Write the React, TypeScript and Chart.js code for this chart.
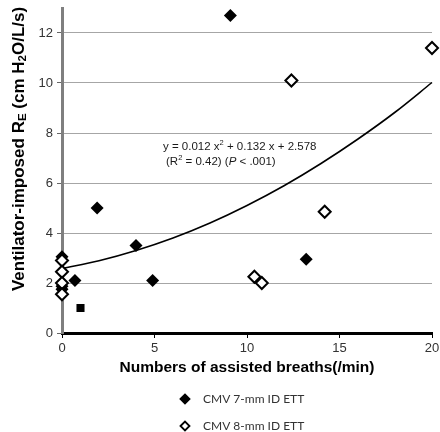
import React, { useEffect, useRef } from "react";
import { Chart, registerables } from "chart.js";
Chart.register(...registerables);

// CMV 7-mm ID ETT (filled diamonds)
const cmv7X = [9.1, 1.9, 4.0, 4.9, 0.7, 0, 0, 0, 0, 13.2];
const cmv7Y = [12.7, 5.0, 3.5, 2.1, 2.1, 3.05, 2.9, 1.87, 1.75, 2.95];
// CMV 8-mm ID ETT (open diamonds)
const cmv8X = [20, 12.4, 14.2, 10.4, 10.8, 0, 0, 0, 0];
const cmv8Y = [11.4, 10.1, 4.85, 2.25, 2.0, 2.9, 2.45, 2.0, 1.55];
// extra filled square marker
const squareX = [1.0];
const squareY = [1.0];
// trend line points
const trendX = [0, 2, 4, 6, 8, 10, 12, 14, 16, 18, 20];
const trendY = [2.58, 2.89, 3.30, 3.80, 4.40, 5.10, 5.89, 6.78, 7.76, 8.83, 10.02];

const xTicks = [0, 5, 10, 15, 20];
const yTicks = [0, 2, 4, 6, 8, 10, 12];

const legendLabels = ["CMV 7-mm ID ETT", "CMV 8-mm ID ETT"];
const eqLine1 = "y = 0.012 x² + 0.132 x + 2.578";

type Seg = { t: string; f: string; dy?: number };

function drawRich(ctx: CanvasRenderingContext2D, segs: Seg[], x: number, y: number, align: "center" | "left") {
  let total = 0;
  for (const s of segs) {
    ctx.font = s.f;
    total += ctx.measureText(s.t).width;
  }
  let cx = align === "center" ? x - total / 2 : x;
  ctx.textAlign = "left";
  ctx.textBaseline = "middle";
  for (const s of segs) {
    ctx.font = s.f;
    ctx.fillText(s.t, cx, y + (s.dy || 0));
    cx += ctx.measureText(s.t).width;
  }
}

const FF = "'Liberation Sans', Arial, sans-serif";

const textPlugin = {
  id: "textPlugin",
  afterDraw(chart: any) {
    const ctx: CanvasRenderingContext2D = chart.ctx;
    ctx.save();
    ctx.fillStyle = "#000";
    // Y axis title (rotated -90deg about its centre)
    ctx.save();
    ctx.translate(19, 149);
    ctx.rotate(-Math.PI / 2);
    const b = `bold 17px ${FF}`;
    const bs = `bold 11.5px ${FF}`;
    drawRich(ctx, [
      { t: "Ventilator-imposed R", f: b },
      { t: "E", f: bs, dy: 4 },
      { t: " (cm H", f: b },
      { t: "2", f: bs, dy: 4 },
      { t: "O/L/s)", f: b },
    ], 0, 0, "center");
    ctx.restore();
    // X axis title
    drawRich(ctx, [{ t: "Numbers of assisted breaths(/min)", f: `bold 15.5px ${FF}` }], 247, 368, "center");

    // Equation
    ctx.fillStyle = "#1a1a1a";
    const n = `11.5px ${FF}`;
    const sup = `7.5px ${FF}`;
    const parts = eqLine1.split("²");
    drawRich(ctx, [
      { t: parts[0], f: n },
      { t: "2", f: sup, dy: -4 },
      { t: parts[1], f: n },
    ], 163, 147, "left");
    drawRich(ctx, [
      { t: "(R", f: n },
      { t: "2", f: sup, dy: -4 },
      { t: " = 0.42) (", f: n },
      { t: "P", f: `italic 11.5px ${FF}` },
      { t: " < .001)", f: n },
    ], 166, 162, "left");

    // Legend
    const items = [
      { fill: "#000", y: 399 },
      { fill: "#fff", y: 426 },
    ];
    items.forEach((it, i) => {
      const cx = 185;
      const r = 4.5;
      ctx.beginPath();
      ctx.moveTo(cx - r, it.y);
      ctx.lineTo(cx, it.y - r);
      ctx.lineTo(cx + r, it.y);
      ctx.lineTo(cx, it.y + r);
      ctx.closePath();
      ctx.fillStyle = it.fill;
      ctx.fill();
      ctx.lineWidth = 1.8;
      ctx.strokeStyle = "#000";
      ctx.stroke();
      ctx.fillStyle = "#333";
      drawRich(ctx, [{ t: legendLabels[i], f: `12px Lato, ${FF}` }], 203, it.y, "left");
    });
    ctx.restore();
  },
};

export default function App() {
  const ref = useRef<HTMLCanvasElement | null>(null);
  useEffect(() => {
    if (!ref.current) return;
    const toPts = (xs: number[], ys: number[]) => xs.map((x, i) => ({ x, y: ys[i] }));
    const chart = new Chart(ref.current, {
      type: "scatter",
      data: {
        datasets: [
          {
            label: legendLabels[1],
            data: toPts(cmv8X, cmv8Y),
            pointStyle: "rectRot",
            pointRadius: 6,
            pointBackgroundColor: "#fff",
            pointBorderColor: "#000",
            pointBorderWidth: 2,
            clip: false,
            order: 0,
          },
          {
            label: legendLabels[0],
            data: toPts(cmv7X, cmv7Y),
            pointStyle: "rectRot",
            pointRadius: 6.5,
            pointBackgroundColor: "#000",
            pointBorderColor: "#000",
            pointBorderWidth: 0,
            clip: false,
            order: 1,
          },
          {
            label: "square",
            data: toPts(squareX, squareY),
            pointStyle: "rect",
            pointRadius: 5.7,
            pointBackgroundColor: "#000",
            pointBorderColor: "#000",
            pointBorderWidth: 0,
            clip: false,
            order: 1,
          },
          {
            type: "line",
            label: "trend",
            data: toPts(trendX, trendY),
            borderColor: "#000",
            borderWidth: 1.6,
            pointRadius: 0,
            cubicInterpolationMode: "monotone",
            fill: false,
            showLine: true,
            clip: false,
            order: 2,
          } as any,
        ],
      },
      options: {
        animation: false,
        responsive: false,
        maintainAspectRatio: false,
        devicePixelRatio: 1,
        layout: { padding: { left: 0, right: 8, top: 0, bottom: 71 } },
        plugins: { legend: { display: false }, tooltip: { enabled: false } },
        scales: {
          x: {
            type: "linear",
            min: 0,
            max: 20,
            afterBuildTicks: (s: any) => { s.ticks = xTicks.map((v) => ({ value: v })); },
            afterFit: (s: any) => { s.height = 28; s.paddingLeft = 0; s.paddingRight = 0; },
            grid: { drawOnChartArea: false, drawTicks: true, tickLength: 5, tickColor: "#000", color: "#000" },
            border: { color: "#000", width: 3 },
            ticks: { color: "#333", font: { size: 13, family: FF }, padding: 3, maxRotation: 0 },
          },
          y: {
            type: "linear",
            min: 0,
            max: 13,
            afterBuildTicks: (s: any) => { s.ticks = yTicks.map((v) => ({ value: v })); },
            afterFit: (s: any) => { s.width = 62; s.paddingTop = 0; s.paddingBottom = 0; },
            grid: { color: "#a6a6a6", lineWidth: 1, drawTicks: true, tickLength: 5, tickColor: "#666" },
            border: { color: "#7f7f7f", width: 3 },
            ticks: { color: "#333", font: { size: 13, family: FF }, padding: 4 },
          },
        },
      },
      plugins: [textPlugin],
    } as any);
    return () => chart.destroy();
  }, []);
  return (
    <div style={{ position: "fixed", left: 0, top: 0, width: 440, height: 432, background: "#fff" }}>
      <canvas ref={ref} width={440} height={432} style={{ width: 440, height: 432 }} />
    </div>
  );
}
